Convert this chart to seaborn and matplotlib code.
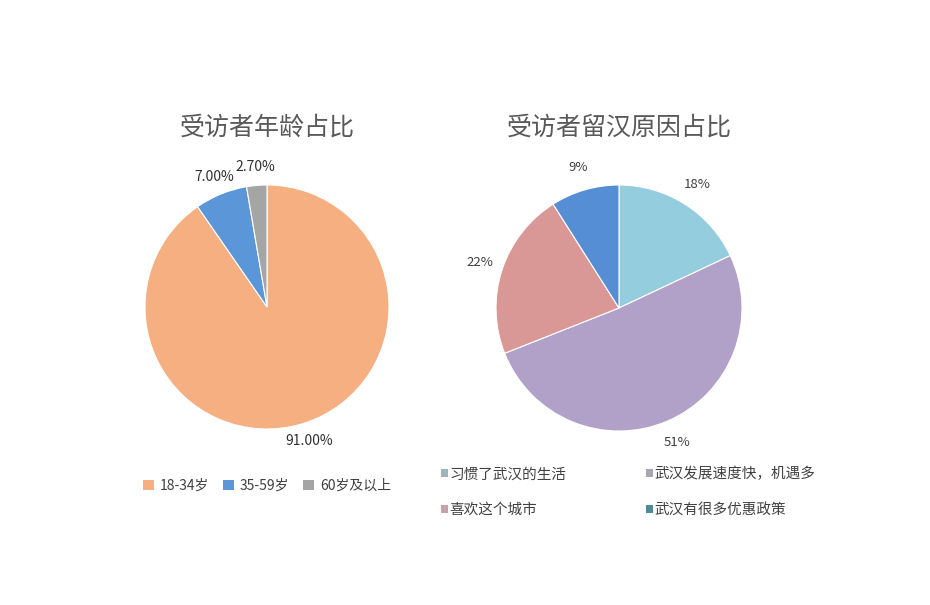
import matplotlib.pyplot as plt
import seaborn as sns
from matplotlib.patches import Patch

sns.set_theme(style="white")
plt.rcParams['font.family'] = ['Noto Sans CJK SC', 'DejaVu Sans']

# left chart: age of respondents
age_groups = ['18-34岁', '35-59岁', '60岁及以上']
age_share = [91.0, 7.0, 2.7]
age_labels = ['91.00%', '7.00%', '2.70%']
age_colors = ['#F5AF80', '#5B96D8', '#A5A5A5']

# right chart: reasons for staying in Wuhan
reasons = ['习惯了武汉的生活', '武汉发展速度快，机遇多', '喜欢这个城市', '武汉有很多优惠政策']
reason_share = [18, 51, 22, 9]
reason_labels = ['18%', '51%', '22%', '9%']
reason_colors = ['#94CDDE', '#B1A1C8', '#D99795', '#558ED5']
reason_legend_colors = ['#9FB3BC', '#A8A6AE', '#C6A3AA', '#4F8A9A']

W, H = 930, 605
fig = plt.figure(figsize=(W / 100, H / 100), dpi=100)


def pie_axes(cx, cy, r):
    ax = fig.add_axes([(cx - r) / W, (H - cy - r) / H, 2 * r / W, 2 * r / H])
    return ax


def finish(ax):
    ax.set_xlim(-1, 1)
    ax.set_ylim(-1, 1)
    ax.axis('off')
    for t in ax.texts:
        t.set_ha('center')
        t.set_va('center')


ax1 = pie_axes(267, 307, 122)
ax1.pie(age_share, colors=age_colors, labels=age_labels, startangle=90,
        counterclock=False, radius=1, labeldistance=1.15,
        wedgeprops=dict(edgecolor='white', linewidth=0.8),
        textprops=dict(fontsize=10, color='#303030'))
finish(ax1)
fig.text(267 / W, 1 - 128 / H, '受访者年龄占比', ha='center', va='center',
         fontsize=18, color='#595959')

ax2 = pie_axes(619, 308, 123)
ax2.pie(reason_share, colors=reason_colors, labels=reason_labels, startangle=90,
        counterclock=False, radius=1, labeldistance=1.19,
        wedgeprops=dict(edgecolor='white', linewidth=0.8),
        textprops=dict(fontsize=9.5, color='#404040'))
finish(ax2)
fig.text(619 / W, 1 - 128 / H, '受访者留汉原因占比', ha='center', va='center',
         fontsize=18, color='#595959')

# legends
h1 = [Patch(facecolor=c, edgecolor='none') for c in age_colors]
fig.legend(h1, age_groups, loc='center', bbox_to_anchor=(267 / W, 1 - 486 / H),
           ncol=3, frameon=False, fontsize=10, handlelength=0.8, handleheight=0.8,
           handletextpad=0.4, columnspacing=1.0, labelcolor='#404040')

h2 = [Patch(facecolor=c, edgecolor='none') for c in reason_legend_colors]
order = [0, 2, 1, 3]
fig.legend([h2[i] for i in order], [reasons[i] for i in order], loc='center left',
           bbox_to_anchor=(428 / W, 1 - 492 / H), ncol=2, frameon=False,
           fontsize=10.5, handlelength=0.45, handleheight=0.45, handletextpad=0.1,
           columnspacing=5.5, labelspacing=1.5, labelcolor='#404040')

fig.savefig('out.png', dpi=100, facecolor='white')
